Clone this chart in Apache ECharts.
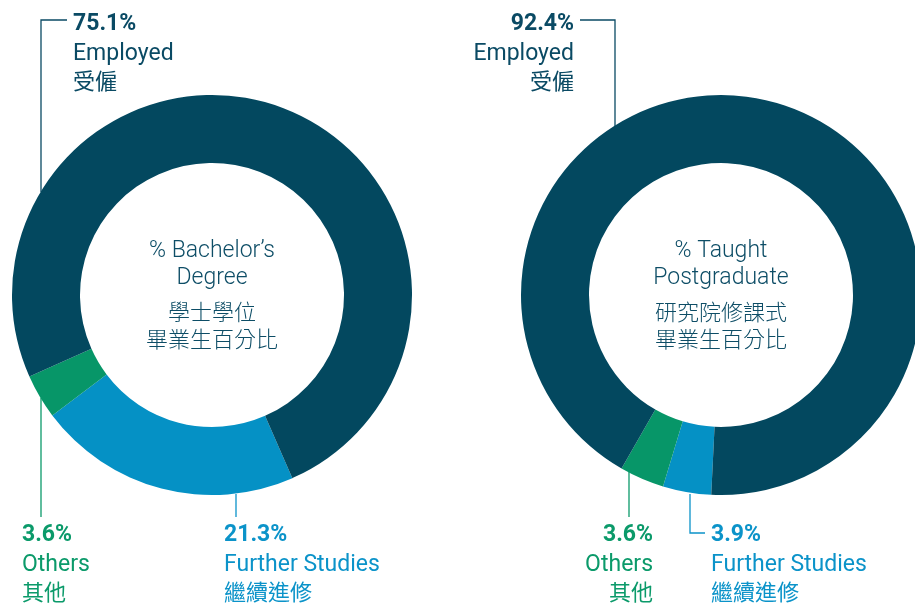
<!DOCTYPE html>
<html>
<head>
<meta charset="utf-8">
<title>Graduate destinations</title>
<script src="https://cdn.jsdelivr.net/npm/echarts@6/dist/echarts.min.js"></script>
<style>
  html, body { margin: 0; padding: 0; background: #fff; }
  #chart { width: 915px; height: 603px; }
</style>
</head>
<body>
<div id="chart"></div>
<script>
// categories (clockwise order from the bottom of each ring)
const categories = ['Further Studies', 'Others', 'Employed'];
const categoriesZh = ['繼續進修', '其他', '受僱'];
const bachelorValues = [21.3, 3.6, 75.1];
const taughtPgValues = [3.9, 3.6, 92.4];
const centerTitles = [
  ['% Bachelor’s', 'Degree', '學士學位', '畢業生百分比'],
  ['% Taught', 'Postgraduate', '研究院修課式', '畢業生百分比']
];

const colors = ['#0591c5', '#079668', '#03485f'];
const textColors = ['#0b93c9', '#0b9a6a', '#0a4a64'];
const LATIN = 'Roboto, "Noto Sans", sans-serif';
const CJK = '"Noto Sans CJK TC", "Noto Sans CJK SC", sans-serif';

function pieSeries(values, center, startAngle) {
  return {
    type: 'pie',
    center: center,
    radius: [132, 200],
    startAngle: startAngle,
    silent: true,
    label: { show: false },
    labelLine: { show: false },
    itemStyle: { borderWidth: 0 },
    data: values.map((v, i) => ({
      name: categories[i],
      value: v,
      itemStyle: { color: colors[i] }
    }))
  };
}

// a 3-line label block: percent / English / Chinese
function labelBlock(idx, value, x, ys, align) {
  const c = textColors[idx];
  return [
    { type: 'text', x: x, y: ys[0], style: { text: value.toFixed(1) + '%', font: 'bold 23px ' + LATIN, fill: c, align: align, verticalAlign: 'middle' } },
    { type: 'text', x: x, y: ys[1], style: { text: categories[idx], font: '23px ' + LATIN, fill: c, align: align, verticalAlign: 'middle' } },
    { type: 'text', x: x, y: ys[2], style: { text: categoriesZh[idx], font: '22px ' + CJK, fill: c, align: align, verticalAlign: 'middle' } }
  ];
}

function leader(idx, points) {
  return { type: 'polyline', shape: { points: points }, style: { stroke: textColors[idx], lineWidth: 1.3, fill: null } };
}

function centerText(lines, cx) {
  const ys = [251, 278, 312, 339];
  return lines.map((t, i) => ({
    type: 'text', x: cx, y: ys[i],
    style: {
      text: t,
      font: (i < 2 ? '300 23px ' + LATIN : '300 22px ' + CJK),
      fill: '#0d4d66', align: 'center', verticalAlign: 'middle'
    }
  }));
}

const topYs = [24, 54, 81];
const botYs = [535, 565, 592];

const graphics = [].concat(
  centerText(centerTitles[0], 212),
  centerText(centerTitles[1], 721),
  // left ring
  leader(2, [[67, 20], [41, 20], [41, 192]]),
  labelBlock(2, bachelorValues[2], 73, topYs, 'left'),
  leader(1, [[41, 398], [41, 517]]),
  labelBlock(1, bachelorValues[1], 22, botYs, 'left'),
  leader(0, [[236, 494], [236, 517]]),
  labelBlock(0, bachelorValues[0], 224, botYs, 'left'),
  // right ring
  leader(2, [[580, 20], [615, 20], [615, 126]]),
  labelBlock(2, taughtPgValues[2], 574, topYs, 'right'),
  leader(1, [[629, 472], [629, 517]]),
  labelBlock(1, taughtPgValues[1], 653, botYs, 'right'),
  leader(0, [[690, 494], [690, 533], [705, 533]]),
  labelBlock(0, taughtPgValues[0], 711, botYs, 'left')
);

const chart = echarts.init(document.getElementById('chart'));
chart.setOption({
  animation: false,
  backgroundColor: '#fff',
  series: [
    pieSeries(bachelorValues, [212, 295], -66.3),
    pieSeries(taughtPgValues, [721, 295], -92.8)
  ],
  graphic: graphics
});
</script>
</body>
</html>
